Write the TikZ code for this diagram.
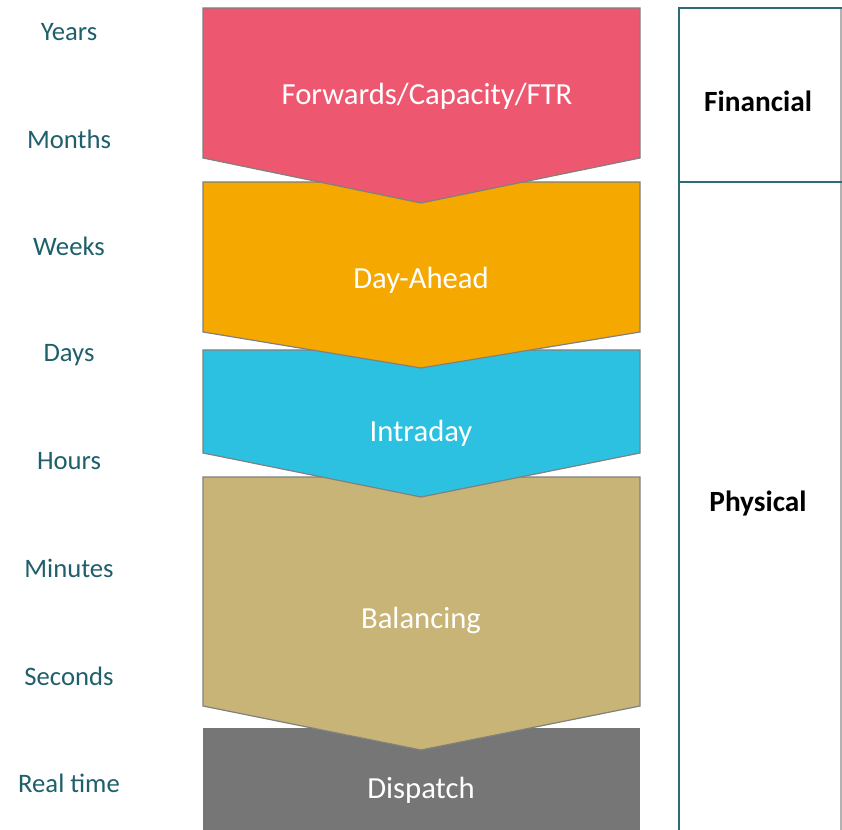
\documentclass[tikz,border=0pt]{standalone}
\usepackage{fontspec}
\setmainfont{Carlito}
\usetikzlibrary{positioning}
\definecolor{fwdpink}{HTML}{EE5770}
\definecolor{dayorange}{HTML}{F5A800}
\definecolor{intracyan}{HTML}{2DC1E1}
\definecolor{baltan}{HTML}{C8B476}
\definecolor{dispgrey}{HTML}{767676}
\definecolor{scaleteal}{HTML}{1E5F6B}
\definecolor{boxteal}{HTML}{2E6B75}
\tikzstyle{chevron} = [draw=black!50, line width=0.9pt]
\tikzstyle{market} = [text=white, font=\fontsize{23}{27}\selectfont]
\tikzstyle{horizon} = [text=scaleteal, font=\fontsize{20}{24}\selectfont]
\tikzstyle{kind} = [text=black, font=\fontsize{22}{26}\selectfont\bfseries]
\tikzstyle{frame} = [draw=boxteal, line width=1.5pt]

\begin{document}
\begin{tikzpicture}[x=0.75pt,y=-0.75pt]
\useasboundingbox (0,0) rectangle (842,830);

% market stages, top to bottom
\fill [dispgrey] (203,728) rectangle (640,830);
\draw [chevron, fill=baltan] (203,477) -- (640,477) -- (640,706) -- (421,750) -- (203,706) -- cycle;
\draw [chevron, fill=intracyan] (203,350) -- (640,350) -- (640,453) -- (421,497) -- (203,453) -- cycle;
\draw [chevron, fill=dayorange] (203,182) -- (640,182) -- (640,332) -- (421,368) -- (203,332) -- cycle;
\draw [chevron, fill=fwdpink] (203,8) -- (640,8) -- (640,158) -- (421,203) -- (203,158) -- cycle;

\node (fwd) [market] at (427,96) {Forwards/Capacity/FTR};
\node (dayahead) [market] at (421,280) {Day-Ahead};
\node (intraday) [market] at (421,433) {Intraday};
\node (balancing) [market] at (421,620) {Balancing};
\node (dispatch) [market] at (421,790) {Dispatch};

% time horizons
\node (years) [horizon] at (69,32) {Years};
\node (months) [horizon] at (69,139) {Months};
\node (weeks) [horizon] at (69,246) {Weeks};
\node (days) [horizon] at (69,355) {Days};
\node (hours) [horizon] at (69,461) {Hours};
\node (minutes) [horizon] at (69,568) {Minutes};
\node (seconds) [horizon] at (69,676) {Seconds};
\node (realtime) [horizon] at (69,783) {Real time};

% financial / physical split
\draw [draw=black!30, line width=1pt] (841,8) -- (841,830);
\draw [frame] (842,8) -- (679,8) -- (679,830);
\draw [frame] (679,182) -- (842,182);
\node (financial) [kind] at (758,101) {Financial};
\node (physical) [kind] at (758,504) {Physical};

\end{tikzpicture}
\end{document}
